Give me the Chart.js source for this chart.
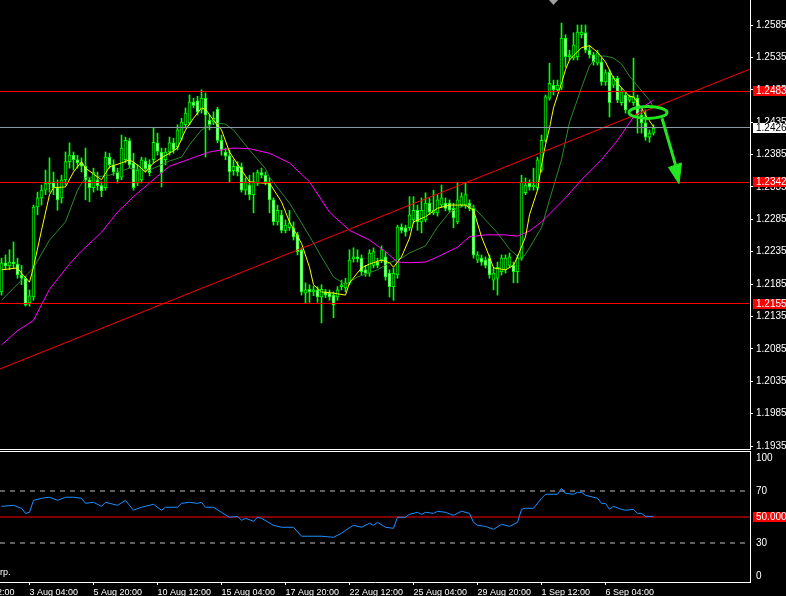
<!DOCTYPE html>
<html>
<head>
<meta charset="utf-8">
<script src="https://cdn.jsdelivr.net/npm/chart.js@4.4.0/dist/chart.umd.min.js"></script>
<style>
  html, body { margin: 0; padding: 0; background: #000; }
  #wrap { position: relative; width: 786px; height: 596px; overflow: hidden; background: #000; }
  #priceChart { position: absolute; left: 0; top: 0; }
  #rsiChart { position: absolute; left: 0; top: 450px; }
</style>
</head>
<body>
<div id="wrap">
  <canvas id="priceChart" width="786" height="450"></canvas>
  <canvas id="rsiChart" width="786" height="146"></canvas>
</div>
<script>
// H4 candles, bar index 0..163
const openP = [
  1.2173, 1.2218, 1.2213, 1.2219, 1.2216, 1.2199, 1.2194, 1.2156, 1.2165, 1.2304,
  1.2318, 1.2330, 1.2340, 1.2343, 1.2334, 1.2318, 1.2346, 1.2374, 1.2384, 1.2377,
  1.2372, 1.2367, 1.2346, 1.2334, 1.2346, 1.2337, 1.2334, 1.2381, 1.2369, 1.2358,
  1.2350, 1.2377, 1.2406, 1.2372, 1.2341, 1.2346, 1.2375, 1.2370, 1.2377, 1.2403,
  1.2389, 1.2377, 1.2389, 1.2403, 1.2397, 1.2410, 1.2431, 1.2434, 1.2466, 1.2468,
  1.2454, 1.2472, 1.2438, 1.2435, 1.2455, 1.2407, 1.2389, 1.2383, 1.2360, 1.2367,
  1.2366, 1.2330, 1.2338, 1.2323, 1.2341, 1.2357, 1.2353, 1.2341, 1.2315, 1.2281,
  1.2292, 1.2268, 1.2272, 1.2272, 1.2261, 1.2238, 1.2171, 1.2177, 1.2173, 1.2176,
  1.2165, 1.2173, 1.2171, 1.2168, 1.2165, 1.2181, 1.2179, 1.2187, 1.2224, 1.2227,
  1.2225, 1.2207, 1.2202, 1.2214, 1.2219, 1.2222, 1.2227, 1.2202, 1.2181, 1.2199,
  1.2273, 1.2272, 1.2272, 1.2284, 1.2299, 1.2281, 1.2284, 1.2310, 1.2295, 1.2295,
  1.2307, 1.2310, 1.2310, 1.2302, 1.2281, 1.2307, 1.2307, 1.2310, 1.2302, 1.2222,
  1.2225, 1.2222, 1.2225, 1.2191, 1.2194, 1.2204, 1.2207, 1.2214, 1.2214, 1.2204,
  1.2225, 1.2326, 1.2341, 1.2335, 1.2334, 1.2361, 1.2407, 1.2472, 1.2492, 1.2485,
  1.2489, 1.2565, 1.2536, 1.2534, 1.2536, 1.2570, 1.2573, 1.2546, 1.2539, 1.2526,
  1.2528, 1.2497, 1.2512, 1.2492, 1.2503, 1.2465, 1.2477, 1.2469, 1.2465, 1.2472,
  1.2446, 1.2434, 1.2412, 1.2418
];
const highP = [
  1.2225, 1.2230, 1.2238, 1.2250, 1.2225, 1.2214, 1.2197, 1.2176, 1.2307, 1.2327,
  1.2338, 1.2361, 1.2380, 1.2358, 1.2346, 1.2353, 1.2389, 1.2403, 1.2389, 1.2384,
  1.2380, 1.2395, 1.2349, 1.2364, 1.2358, 1.2343, 1.2389, 1.2387, 1.2377, 1.2364,
  1.2415, 1.2412, 1.2410, 1.2387, 1.2369, 1.2381, 1.2380, 1.2377, 1.2426, 1.2418,
  1.2395, 1.2395, 1.2412, 1.2410, 1.2431, 1.2441, 1.2457, 1.2477, 1.2472, 1.2475,
  1.2485, 1.2480, 1.2446, 1.2451, 1.2458, 1.2415, 1.2395, 1.2392, 1.2377, 1.2374,
  1.2372, 1.2349, 1.2353, 1.2357, 1.2361, 1.2364, 1.2358, 1.2349, 1.2318, 1.2307,
  1.2299, 1.2284, 1.2299, 1.2281, 1.2265, 1.2241, 1.2187, 1.2184, 1.2182, 1.2181,
  1.2184, 1.2177, 1.2176, 1.2173, 1.2181, 1.2191, 1.2194, 1.2238, 1.2241, 1.2238,
  1.2230, 1.2214, 1.2238, 1.2241, 1.2225, 1.2244, 1.2235, 1.2207, 1.2210, 1.2276,
  1.2278, 1.2276, 1.2320, 1.2320, 1.2307, 1.2318, 1.2326, 1.2318, 1.2330, 1.2323,
  1.2338, 1.2318, 1.2315, 1.2310, 1.2341, 1.2326, 1.2341, 1.2315, 1.2307, 1.2235,
  1.2230, 1.2227, 1.2230, 1.2210, 1.2219, 1.2230, 1.2230, 1.2233, 1.2219, 1.2230,
  1.2353, 1.2349, 1.2346, 1.2364, 1.2381, 1.2415, 1.2477, 1.2526, 1.2500, 1.2500,
  1.2588, 1.2570, 1.2546, 1.2573, 1.2585, 1.2585, 1.2585, 1.2553, 1.2543, 1.2546,
  1.2534, 1.2516, 1.2516, 1.2506, 1.2506, 1.2488, 1.2482, 1.2477, 1.2534, 1.2477,
  1.2454, 1.2454, 1.2423, 1.2431
];
const lowP = [
  1.2168, 1.2207, 1.2207, 1.2210, 1.2194, 1.2184, 1.2151, 1.2151, 1.2160, 1.2292,
  1.2307, 1.2323, 1.2327, 1.2323, 1.2299, 1.2310, 1.2338, 1.2364, 1.2361, 1.2364,
  1.2358, 1.2315, 1.2312, 1.2327, 1.2330, 1.2320, 1.2330, 1.2364, 1.2353, 1.2341,
  1.2346, 1.2372, 1.2364, 1.2330, 1.2337, 1.2341, 1.2358, 1.2352, 1.2372, 1.2384,
  1.2335, 1.2369, 1.2384, 1.2387, 1.2392, 1.2407, 1.2426, 1.2431, 1.2457, 1.2446,
  1.2449, 1.2381, 1.2423, 1.2431, 1.2403, 1.2384, 1.2377, 1.2343, 1.2353, 1.2352,
  1.2327, 1.2323, 1.2315, 1.2295, 1.2337, 1.2349, 1.2338, 1.2295, 1.2276, 1.2276,
  1.2264, 1.2264, 1.2268, 1.2253, 1.2230, 1.2168, 1.2156, 1.2157, 1.2167, 1.2157,
  1.2125, 1.2164, 1.2160, 1.2133, 1.2160, 1.2176, 1.2173, 1.2184, 1.2219, 1.2219,
  1.2199, 1.2197, 1.2197, 1.2210, 1.2210, 1.2218, 1.2191, 1.2165, 1.2160, 1.2194,
  1.2264, 1.2259, 1.2268, 1.2279, 1.2268, 1.2264, 1.2281, 1.2292, 1.2292, 1.2290,
  1.2304, 1.2298, 1.2296, 1.2272, 1.2278, 1.2304, 1.2302, 1.2298, 1.2225, 1.2218,
  1.2214, 1.2210, 1.2194, 1.2176, 1.2168, 1.2199, 1.2202, 1.2210, 1.2187, 1.2187,
  1.2222, 1.2323, 1.2330, 1.2330, 1.2330, 1.2358, 1.2404, 1.2469, 1.2477, 1.2482,
  1.2485, 1.2520, 1.2531, 1.2531, 1.2531, 1.2565, 1.2542, 1.2534, 1.2523, 1.2523,
  1.2492, 1.2492, 1.2443, 1.2488, 1.2465, 1.2461, 1.2449, 1.2466, 1.2461, 1.2418,
  1.2418, 1.2407, 1.2404, 1.2415
];
const closeP = [
  1.2218, 1.2213, 1.2219, 1.2216, 1.2199, 1.2194, 1.2153, 1.2167, 1.2304, 1.2318,
  1.2330, 1.2340, 1.2343, 1.2334, 1.2315, 1.2346, 1.2374, 1.2384, 1.2377, 1.2372,
  1.2367, 1.2346, 1.2334, 1.2357, 1.2337, 1.2329, 1.2381, 1.2369, 1.2358, 1.2347,
  1.2395, 1.2407, 1.2369, 1.2334, 1.2361, 1.2377, 1.2363, 1.2357, 1.2404, 1.2390,
  1.2357, 1.2389, 1.2403, 1.2392, 1.2423, 1.2435, 1.2449, 1.2466, 1.2461, 1.2451,
  1.2472, 1.2446, 1.2431, 1.2441, 1.2407, 1.2392, 1.2383, 1.2358, 1.2367, 1.2358,
  1.2330, 1.2343, 1.2323, 1.2343, 1.2357, 1.2353, 1.2343, 1.2315, 1.2281, 1.2299,
  1.2268, 1.2276, 1.2279, 1.2258, 1.2235, 1.2173, 1.2176, 1.2173, 1.2176, 1.2165,
  1.2177, 1.2168, 1.2165, 1.2153, 1.2176, 1.2184, 1.2187, 1.2222, 1.2227, 1.2224,
  1.2204, 1.2202, 1.2233, 1.2235, 1.2214, 1.2238, 1.2196, 1.2181, 1.2202, 1.2273,
  1.2268, 1.2265, 1.2292, 1.2299, 1.2281, 1.2299, 1.2310, 1.2296, 1.2299, 1.2315,
  1.2318, 1.2302, 1.2299, 1.2287, 1.2315, 1.2320, 1.2323, 1.2302, 1.2230, 1.2230,
  1.2219, 1.2214, 1.2199, 1.2202, 1.2211, 1.2225, 1.2225, 1.2227, 1.2204, 1.2225,
  1.2343, 1.2338, 1.2335, 1.2338, 1.2377, 1.2407, 1.2474, 1.2495, 1.2485, 1.2492,
  1.2565, 1.2536, 1.2539, 1.2554, 1.2574, 1.2574, 1.2546, 1.2539, 1.2528, 1.2542,
  1.2497, 1.2511, 1.2465, 1.2503, 1.2469, 1.2482, 1.2454, 1.2474, 1.2474, 1.2446,
  1.2434, 1.2412, 1.2418, 1.2426
];

// moving averages at selected bars
const fastMaBar = [0,4,5,7,8,10,12,13,16,18,20,21,25,27,30,32,34,36,38,40,42,44,46,48,50,51,53,55,57,60,62,65,67,70,72,75,77,78,80,83,86,87,90,92,95,97,98,100,102,103,106,109,112,116,118,120,122,123,126,128,129,131,132,134,135,136,137,138,140,141,142,145,147,149,151,153,155,157,158,159,160,161,162,163];
const fastMa = [1.2207,1.2210,1.2202,1.2188,1.2211,1.2268,1.2323,1.2334,1.2335,1.2358,1.2374,1.2364,1.2346,1.2366,1.2372,1.2377,1.2369,1.2358,1.2372,1.2380,1.2387,1.2395,1.2423,1.2441,1.2457,1.2455,1.2438,1.2423,1.2389,1.2361,1.2343,1.2341,1.2341,1.2312,1.2281,1.2248,1.2211,1.2184,1.2173,1.2171,1.2168,1.2187,1.2210,1.2216,1.2222,1.2218,1.2211,1.2227,1.2256,1.2281,1.2289,1.2302,1.2307,1.2307,1.2299,1.2258,1.2227,1.2210,1.2207,1.2214,1.2227,1.2258,1.2292,1.2330,1.2369,1.2400,1.2426,1.2457,1.2495,1.2516,1.2531,1.2550,1.2553,1.2543,1.2528,1.2503,1.2488,1.2475,1.2474,1.2465,1.2457,1.2446,1.2437,1.2428];
const midMaBar = [0,5,8,12,16,19,21,23,27,32,35,37,42,45,47,50,53,56,58,62,66,67,72,77,80,83,86,89,94,97,100,102,106,109,112,116,118,121,124,127,130,132,135,137,140,142,145,147,149,151,153,155,157,159,162,163];
const midMa = [1.2160,1.2191,1.2210,1.2253,1.2281,1.2330,1.2350,1.2350,1.2353,1.2364,1.2361,1.2361,1.2375,1.2381,1.2400,1.2423,1.2434,1.2432,1.2423,1.2392,1.2363,1.2350,1.2310,1.2259,1.2227,1.2196,1.2184,1.2196,1.2207,1.2218,1.2225,1.2233,1.2244,1.2273,1.2296,1.2307,1.2304,1.2284,1.2264,1.2239,1.2222,1.2241,1.2272,1.2315,1.2377,1.2435,1.2488,1.2522,1.2537,1.2537,1.2534,1.2525,1.2506,1.2491,1.2469,1.2458];
const slowMaBar = [0,4,8,12,17,20,25,29,33,37,42,47,52,55,58,62,67,72,77,82,87,92,96,99,102,106,109,114,117,121,126,129,132,135,141,145,150,154,158,161,163];
const slowMa = [1.2091,1.2113,1.2129,1.2177,1.2216,1.2236,1.2265,1.2296,1.2320,1.2341,1.2367,1.2378,1.2389,1.2392,1.2395,1.2394,1.2387,1.2372,1.2343,1.2296,1.2268,1.2253,1.2235,1.2219,1.2218,1.2219,1.2227,1.2242,1.2258,1.2261,1.2261,1.2259,1.2267,1.2281,1.2318,1.2346,1.2377,1.2407,1.2443,1.2461,1.2469];

// drawn objects
const levelLines = [1.2483, 1.2342, 1.2155];
const lastPrice = 1.2426;
const trendBar = [-0.375, 187.125];
const trendPrice = [1.2054, 1.2517];

const priceTicks = [1.1935, 1.1985, 1.2035, 1.2085, 1.2135, 1.2185, 1.2235, 1.2285, 1.2335, 1.2385, 1.2435, 1.2485, 1.2535, 1.2585];
const timeTickBars = [-9, 7, 23, 39, 55, 71, 87, 103, 119, 135, 151];
const timeTickLabels = ['30 Jul 12:00', '3 Aug 04:00', '5 Aug 20:00', '10 Aug 12:00', '15 Aug 04:00', '17 Aug 20:00', '22 Aug 12:00', '25 Aug 04:00', '29 Aug 20:00', '1 Sep 12:00', '6 Sep 04:00'];

// RSI sub window
const rsiBar = [0,3,5,6,7,8,10,12,14,16,18,20,21,23,25,26,29,31,33,35,38,40,41,44,45,47,49,50,51,53,55,57,59,60,61,63,64,65,68,70,73,75,80,83,85,86,88,90,92,93,94,96,98,99,101,102,104,105,106,108,109,111,113,115,117,118,119,121,123,125,127,129,130,131,133,135,136,139,140,141,143,144,145,146,149,150,151,152,153,155,156,158,159,160,161,163];
const rsiValue = [58.2,59.0,56.7,52.8,53.6,62.8,64.4,65.2,62.8,65.2,65.2,64.4,60.5,61.3,58.2,61.3,59.0,62.8,55.2,57.5,59.8,55.2,57.5,57.5,60.5,61.3,60.5,61.3,57.5,57.5,53.6,49.8,50.5,47.5,49.0,46.7,49.8,49.0,43.6,42.1,42.1,35.2,35.2,34.4,37.5,39.8,43.6,42.1,45.2,43.6,45.9,42.1,41.3,49.8,49.8,52.1,53.6,52.1,53.6,52.8,54.4,53.6,51.3,54.4,52.8,45.9,43.6,42.8,40.5,44.4,42.8,45.9,55.9,56.7,56.7,64.4,67.5,67.5,72.1,68.2,67.5,69.0,69.0,66.7,64.4,60.5,60.5,55.9,58.2,55.9,55.2,55.9,52.8,52.8,50.5,50.5];
const rsiDashed = [70, 30];
const rsiMid = 50;
const rsiLabels = [100, 70, 30, 0];

const xMin = -0.375, xMax = 187.125;
const priceMin = 1.19304, priceMax = 1.26236;
const FONT = '"Liberation Sans", Arial, sans-serif';
const LIME = '#00ff00';

Chart.defaults.font.family = FONT;
Chart.defaults.font.size = 9;
Chart.defaults.color = '#ffffff';

function noPad(s) {
    s.paddingTop = 0; s.paddingBottom = 0; s.paddingLeft = 0; s.paddingRight = 0;
}

function flatLine(v) {
    return [{ x: xMin, y: v }, { x: xMax, y: v }];
}

function pairs(xs, ys) {
    return xs.map((x, i) => ({ x: x, y: ys[i] }));
}

const barIdx = closeP.map((c, i) => i);

// horizontal levels drawn on whole pixel rows so they stay 1px sharp
const levelDraw = {
    id: 'levelDraw',
    afterDatasetsDraw(chart) {
        const { ctx, chartArea } = chart;
        const ys = chart.scales.y;
        ctx.save();
        const hline = (v, col) => {
            ctx.fillStyle = col;
            ctx.fillRect(chartArea.left, Math.round(ys.getPixelForValue(v) - 0.5), chartArea.right - chartArea.left, 1);
        };
        hline(lastPrice, '#8a99a8');
        levelLines.forEach(v => hline(v, '#ff0000'));
        ctx.restore();
    }
};

// label boxes, shift marker and the hand drawn green marks
const priceDecor = {
    id: 'priceDecor',
    afterDraw(chart) {
        const { ctx, chartArea } = chart;
        const xs = chart.scales.x, ys = chart.scales.y;
        ctx.save();
        ctx.fillStyle = '#ffffff';
        ctx.fillRect(0, chartArea.bottom, chartArea.right + 1, 1);

        // chart shift marker
        ctx.fillStyle = '#a0a0a0';
        ctx.beginPath();
        ctx.moveTo(549, 0); ctx.lineTo(558, 0); ctx.lineTo(553.5, 5);
        ctx.closePath(); ctx.fill();

        ctx.font = '10px ' + FONT;
        ctx.textBaseline = 'middle';
        ctx.textAlign = 'left';
        const box = (v, bg, fg) => {
            const y = Math.round(ys.getPixelForValue(v));
            ctx.fillStyle = bg;
            ctx.fillRect(753, y - 5, 33, 10);
            ctx.fillStyle = fg;
            ctx.fillText(v.toFixed(4), 756, y + 0.5);
        };
        levelLines.forEach(v => box(v, '#ff0000', '#ffffff'));
        box(lastPrice, '#ffffff', '#000000');

        // green ellipse + arrow
        const px = (k, p) => [xs.getPixelForValue(k), ys.getPixelForValue(p)];
        ctx.strokeStyle = '#22e622';
        ctx.fillStyle = '#22e622';
        ctx.lineWidth = 3;
        const [ex, ey] = px(161.625, 1.2450);
        ctx.beginPath();
        ctx.ellipse(ex, ey, 19, 6, 0, 0, Math.PI * 2);
        ctx.stroke();
        const a0 = px(165.125, 1.2441), a1 = px(168.5, 1.2369);
        ctx.beginPath();
        ctx.moveTo(a0[0], a0[1]); ctx.lineTo(a1[0], a1[1]);
        ctx.stroke();
        const h1 = px(166.75, 1.2365), h2 = px(170, 1.2372), h3 = px(169.375, 1.2340);
        ctx.beginPath();
        ctx.moveTo(h1[0], h1[1]); ctx.lineTo(h2[0], h2[1]); ctx.lineTo(h3[0], h3[1]);
        ctx.closePath();
        ctx.lineWidth = 1;
        ctx.fill(); ctx.stroke();
        ctx.restore();
    }
};

new Chart(document.getElementById('priceChart'), {
    type: 'bar',
    data: {
        datasets: [
            {
                type: 'bar',
                data: barIdx.map(i => ({ x: i, y: [lowP[i], highP[i]] })),
                backgroundColor: LIME,
                borderWidth: 0,
                barThickness: 1,
                grouped: false,
                order: 4
            },
            {
                type: 'bar',
                data: barIdx.map(i => ({ x: i, y: [openP[i], closeP[i]] })),
                backgroundColor: barIdx.map(i => closeP[i] > openP[i] ? '#000000' : '#ffffff'),
                borderColor: LIME,
                borderWidth: 1,
                borderSkipped: false,
                barThickness: 3,
                grouped: false,
                order: 3
            },
            { type: 'line', data: pairs(slowMaBar, slowMa), borderColor: '#ff00ff', borderWidth: 1, pointRadius: 0, order: 2 },
            { type: 'line', data: pairs(midMaBar, midMa), borderColor: '#2a8a2a', borderWidth: 1, pointRadius: 0, order: 2 },
            { type: 'line', data: pairs(fastMaBar, fastMa), borderColor: '#ffff00', borderWidth: 1, pointRadius: 0, order: 1 },
            { type: 'line', data: pairs(trendBar, trendPrice), borderColor: '#ff0000', borderWidth: 1, pointRadius: 0, order: 0 }
        ]
    },
    options: {
        responsive: false,
        animation: false,
        events: [],
        layout: { padding: { top: 0, bottom: 1, left: 0, right: 0 } },
        plugins: { legend: { display: false }, tooltip: { enabled: false } },
        scales: {
            x: { type: 'linear', min: xMin, max: xMax, display: false, offset: false },
            y: {
                position: 'right',
                min: priceMin,
                max: priceMax,
                afterBuildTicks: s => { s.ticks = priceTicks.map(v => ({ value: v })); },
                afterFit: s => { s.width = 36; noPad(s); },
                ticks: { color: '#ffffff', padding: 3, font: { size: 10 }, callback: v => v.toFixed(4) },
                grid: { drawOnChartArea: false, tickLength: 3, color: '#ffffff' },
                border: { display: true, color: '#ffffff' }
            }
        }
    },
    plugins: [levelDraw, priceDecor]
});

const rsiDecor = {
    id: 'rsiDecor',
    afterDraw(chart) {
        const { ctx, chartArea } = chart;
        const ys = chart.scales.y;
        ctx.save();
        ctx.fillStyle = '#ffffff';
        ctx.fillRect(0, chartArea.top - 1, chartArea.right + 1, 1);
        ctx.font = '10px ' + FONT;
        ctx.textBaseline = 'middle';
        ctx.textAlign = 'left';
        rsiLabels.forEach(v => {
            let y = ys.getPixelForValue(v);
            y = Math.min(Math.max(y, chartArea.top + 6), chartArea.bottom - 6);
            ctx.fillStyle = '#ffffff';
            ctx.fillText(String(v), 756, y);
        });
        const my = Math.round(ys.getPixelForValue(rsiMid));
        ctx.fillStyle = '#ff0000';
        ctx.fillRect(753, my - 5, 33, 10);
        ctx.fillStyle = '#ffffff';
        ctx.fillText(rsiMid.toFixed(4), 756, my + 0.5);
        ctx.font = '9px ' + FONT;
        ctx.textBaseline = 'alphabetic';
        ctx.fillText('rp.', 0, chartArea.bottom - 7);
        ctx.restore();
    }
};

new Chart(document.getElementById('rsiChart'), {
    type: 'line',
    data: {
        datasets: [
            { data: pairs(rsiBar, rsiValue), borderColor: '#1e90ff', borderWidth: 1, pointRadius: 0, order: 0 },
            ...rsiDashed.map(v => ({ data: flatLine(v), borderColor: '#c0c0c0', borderWidth: 1, borderDash: [5, 5], pointRadius: 0, order: 1 })),
            { data: flatLine(rsiMid), borderColor: '#ff0000', borderWidth: 1, pointRadius: 0, order: 1 }
        ]
    },
    options: {
        responsive: false,
        animation: false,
        events: [],
        layout: { padding: { top: 2, bottom: 0, left: 0, right: 0 } },
        plugins: { legend: { display: false }, tooltip: { enabled: false } },
        scales: {
            x: {
                type: 'linear',
                min: xMin,
                max: xMax,
                offset: false,
                afterBuildTicks: s => { s.ticks = timeTickBars.map(v => ({ value: v })); },
                afterFit: s => { s.height = 14; noPad(s); },
                ticks: {
                    color: '#ffffff', align: 'start', autoSkip: false, maxRotation: 0, padding: 2,
                    callback: (v, i) => timeTickLabels[i]
                },
                grid: { drawOnChartArea: false, tickLength: 3, color: '#ffffff' },
                border: { display: true, color: '#ffffff' }
            },
            y: {
                position: 'right',
                min: 0,
                max: 100,
                afterFit: s => { s.width = 36; noPad(s); },
                ticks: { display: false },
                grid: { display: false },
                border: { display: true, color: '#ffffff' }
            }
        }
    },
    plugins: [rsiDecor]
});
</script>
</body>
</html>
